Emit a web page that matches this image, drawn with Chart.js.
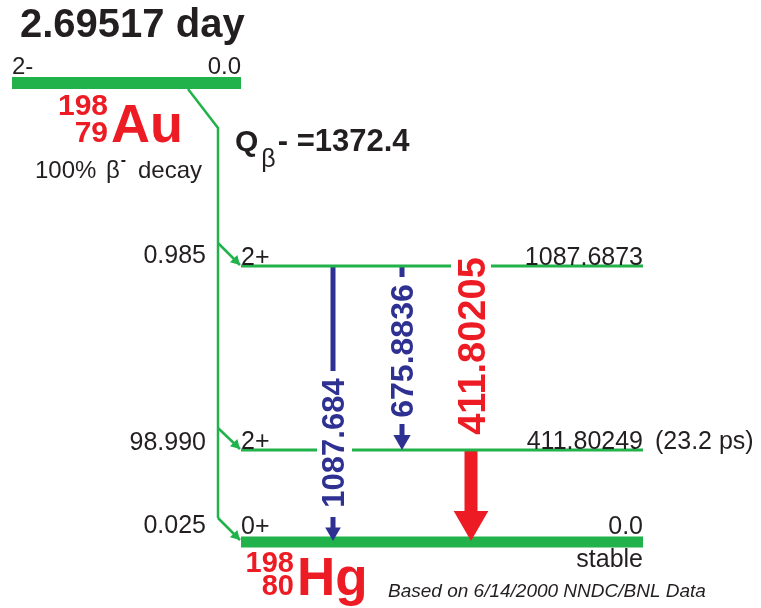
<!DOCTYPE html>
<html>
<head>
<meta charset="utf-8">
<script src="https://cdn.jsdelivr.net/npm/chart.js@4/dist/chart.umd.min.js"></script>
<style>
  html, body { margin: 0; padding: 0; background: #fff; }
  canvas { display: block; }
</style>
</head>
<body>
<canvas id="scheme" width="761" height="608"></canvas>
<script>
const halfLife = '2.69517 day';
const parentSpin = '2-';
const parentEnergy = '0.0';
const qValue = '1372.4';
const levelEnergies = ['0.0', '411.80249', '1087.6873'];
const levelSpins = ['0+', '2+', '2+'];
const levelNotes = ['stable', '(23.2 ps)', ''];
const betaIntensities = ['0.025', '98.990', '0.985'];
const gammaEnergies = ['1087.684', '675.8836', '411.80205'];
const gammaFrom = [2, 2, 1];
const gammaTo = [0, 1, 0];

// --- layout, in pixel units of the hidden axes ---
const levelY = [542, 450, 266];
const levelLeft = 241, levelRight = 643;
const levelWidth = [11, 3, 3];
const levelTextLift = [8, 1, 1];
const betaTextLift = [9, 0, 3];
const parentY = 83, parentLeft = 12, parentRight = 241;
const feedTop = [188, 89], feedX = 218, feedBend = 128;
const branchY = [518, 428, 243];
const gammaX = [333, 402, 471];
const gammaColor = ['#2e3192', '#2e3192', '#ed1c24'];
const gammaFont = [31, 32, 38];
const gammaShaft = [5, 5, 13];
const gammaHead = [9, 10, 20];
const gammaLabelMid = [443, 351, 346];
const gammaGap = [[371, 517], [277, 424], null];
const levelGaps = [[1, 317, 352], [2, 451, 491]];

const green = '#21b24b';
const ink = '#231f20';
const red = '#ed1c24';
const FONT = '"Liberation Sans", Arial, Helvetica, sans-serif';

const datasets = [];
function addLine(points, color, width) {
    datasets.push({
        data: points,
        showLine: true,
        borderColor: color,
        borderWidth: width,
        borderCapStyle: 'butt',
        pointRadius: 0,
        fill: false
    });
}

// parent level and the beta feeding line
addLine([{x: parentLeft, y: parentY}, {x: parentRight, y: parentY}], green, 12);
addLine([{x: feedTop[0], y: feedTop[1]}, {x: feedX, y: feedBend}, {x: feedX, y: branchY[0]}], green, 2.5);

// daughter levels, cut where a gamma label crosses them
levelY.forEach(function (ly, i) {
    let start = levelLeft;
    levelGaps.filter(g => g[0] === i).forEach(function (g) {
        addLine([{x: start, y: ly}, {x: g[1], y: ly}], green, levelWidth[i]);
        start = g[2];
    });
    addLine([{x: start, y: ly}, {x: levelRight, y: ly}], green, levelWidth[i]);
});

// beta branches into each level
const arrowPts = [], arrowRot = [], arrowRad = [], arrowCol = [];
branchY.forEach(function (by, i) {
    const tip = {x: levelLeft - 1, y: levelY[i] - (i === 0 ? 2 : 1)};
    addLine([{x: feedX, y: by}, tip], green, 2.5);
    const r = 6;
    arrowPts.push({x: tip.x - r * 0.707, y: tip.y - r * 0.707});
    arrowRot.push(135); arrowRad.push(r); arrowCol.push(green);
});

// gamma transitions
gammaEnergies.forEach(function (e, i) {
    const top = levelY[gammaFrom[i]] + 1;
    const tipY = levelY[gammaTo[i]] - (gammaTo[i] === 0 ? 1 : 0);
    const r = gammaHead[i];
    const headCenter = tipY - r;
    const baseY = headCenter - r / 2 + 1;
    const gap = gammaGap[i];
    if (gap) {
        addLine([{x: gammaX[i], y: top}, {x: gammaX[i], y: gap[0]}], gammaColor[i], gammaShaft[i]);
        addLine([{x: gammaX[i], y: gap[1]}, {x: gammaX[i], y: baseY}], gammaColor[i], gammaShaft[i]);
    } else {
        addLine([{x: gammaX[i], y: top}, {x: gammaX[i], y: baseY}], gammaColor[i], gammaShaft[i]);
    }
    arrowPts.push({x: gammaX[i], y: headCenter});
    arrowRot.push(180); arrowRad.push(r); arrowCol.push(gammaColor[i]);
});

datasets.unshift({
    data: arrowPts,
    showLine: false,
    pointStyle: 'triangle',
    pointRotation: arrowRot,
    pointRadius: arrowRad,
    pointBackgroundColor: arrowCol,
    pointBorderWidth: 0,
    pointBorderColor: arrowCol
});

const schemeText = {
    id: 'schemeText',
    afterDatasetsDraw: function (chart) {
        const ctx = chart.ctx;
        const px = v => chart.scales.x.getPixelForValue(v);
        const py = v => chart.scales.y.getPixelForValue(v);
        function put(str, x, y, font, color, align) {
            ctx.font = font;
            ctx.fillStyle = color;
            ctx.textAlign = align || 'left';
            ctx.textBaseline = 'alphabetic';
            ctx.fillText(str, px(x), py(y));
            return ctx.measureText(str).width;
        }
        ctx.save();

        // parent
        put(halfLife, 20, 37, 'bold 40px ' + FONT, ink);
        put(parentSpin, 12, 74, '24px ' + FONT, ink);
        put(parentEnergy, parentRight, 74, '24px ' + FONT, ink, 'right');
        put('198', 108, 115, 'bold 30px ' + FONT, red, 'right');
        put('79', 108, 142, 'bold 30px ' + FONT, red, 'right');
        put('Au', 111, 142, 'bold 54px ' + FONT, red);

        let cx = 35;
        cx += put('100% ', cx, 178, '24px ' + FONT, ink);
        cx += put('\u03b2', cx + 3, 178, '24px ' + FONT, ink) + 3;
        put('-', cx + 1, 165, 'bold 16px ' + FONT, ink);
        put('decay', 138, 178, '24px ' + FONT, ink);

        // Q value
        let qx = 235;
        qx += put('Q', qx, 151, 'bold 30px ' + FONT, ink);
        qx += put('\u03b2', qx + 3, 167, '25px ' + FONT, ink) + 3;
        put('- =' + qValue, qx + 2, 151, 'bold 31px ' + FONT, ink);

        // levels
        levelY.forEach(function (ly, i) {
            put(levelSpins[i], levelLeft, ly - levelTextLift[i], '25px ' + FONT, ink);
            put(levelEnergies[i], levelRight, ly - levelTextLift[i], '25px ' + FONT, ink, 'right');
            put(betaIntensities[i], 206, ly - betaTextLift[i], '25px ' + FONT, ink, 'right');
        });
        put(levelNotes[1], 655, levelY[1] - 1, '25px ' + FONT, ink);
        put(levelNotes[0], levelRight, levelY[0] + 25, '25px ' + FONT, ink, 'right');

        // gamma labels, rotated
        gammaEnergies.forEach(function (e, i) {
            const s = gammaFont[i];
            ctx.save();
            ctx.translate(px(gammaX[i]), py(gammaLabelMid[i]));
            ctx.rotate(-Math.PI / 2);
            ctx.font = 'bold ' + s + 'px ' + FONT;
            ctx.fillStyle = gammaColor[i];
            ctx.textAlign = 'center';
            ctx.textBaseline = 'alphabetic';
            ctx.fillText(e, 0, s * 0.358);
            ctx.restore();
        });

        // daughter
        put('198', 294, 572, 'bold 29px ' + FONT, red, 'right');
        put('80', 294, 595, 'bold 29px ' + FONT, red, 'right');
        put('Hg', 297, 595, 'bold 53px ' + FONT, red);
        put('Based on 6/14/2000 NNDC/BNL Data', 388, 597, 'italic 19px ' + FONT, ink);

        ctx.restore();
    }
};

new Chart(document.getElementById('scheme'), {
    type: 'scatter',
    data: { datasets: datasets },
    options: {
        responsive: false,
        devicePixelRatio: 1,
        animation: false,
        layout: { padding: 0, autoPadding: false },
        plugins: { legend: { display: false }, tooltip: { enabled: false } },
        scales: {
            x: { type: 'linear', min: 0, max: 761, display: false },
            y: { type: 'linear', min: 0, max: 608, reverse: true, display: false }
        }
    },
    plugins: [schemeText]
});
</script>
</body>
</html>
